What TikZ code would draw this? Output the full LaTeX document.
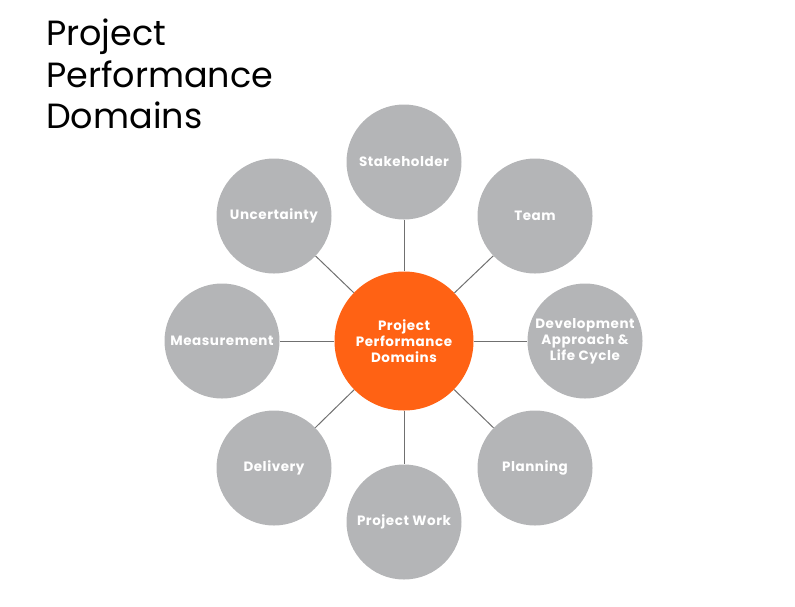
\documentclass[tikz,border=0pt]{standalone}
\usepackage{fontspec}
\setmainfont{Poppins}
\newfontfamily\lblfont{Poppins}[LetterSpace=4]
\usepackage{tikz}
\usetikzlibrary{positioning}
\definecolor{pmorange}{RGB}{255,98,20}
\definecolor{pmgrey}{RGB}{180,181,183}
\definecolor{pmline}{RGB}{112,112,112}
\tikzset{
  hub/.style={circle, fill=pmorange, minimum size=139pt, inner sep=0pt,
    text=white, align=center, font=\lblfont\fontsize{13.5}{16}\selectfont\bfseries},
  domnode/.style={circle, fill=pmgrey, minimum size=115pt, inner sep=0pt,
    text=white, align=center, font=\lblfont\fontsize{13.5}{16}\selectfont\bfseries},
  link/.style={draw=pmline, line width=1pt}
}

\begin{document}
\begin{tikzpicture}[x=1pt,y=-1pt]
  \useasboundingbox (0,0) rectangle (795,606);

  % Title
  \node[anchor=north west, align=left, inner sep=0pt,
    font=\fontsize{35}{41.5}\selectfont] (title) at (46,19)
    {Project\\Performance\\Domains};

  % Centre
  \node[hub] (hub) at (404,341) {Project\\Performance\\Domains};

  % Domains around the centre
  \foreach \name/\px/\py/\txt in {
      stake/404/162/Stakeholder,
      team/535/216/Team,
      devel/585/341/{Development\\Approach \&\\Life Cycle},
      plan/535/468/Planning,
      work/404/522/Project Work,
      deliv/274/468/Delivery,
      meas/222/341/Measurement,
      uncert/274/216/Uncertainty} {
    \node[domnode] (\name) at (\px,\py) {\txt};
    \draw[link] (hub) -- (\name);
  }
\end{tikzpicture}
\end{document}
